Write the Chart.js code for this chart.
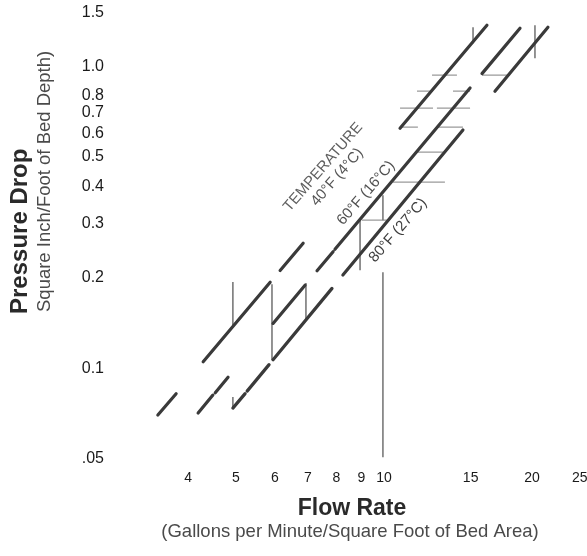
<!DOCTYPE html>
<html><head><meta charset="utf-8">
<script src="https://cdn.jsdelivr.net/npm/chart.js@4.4.0/dist/chart.umd.min.js"></script>
<style>html,body{margin:0;padding:0;background:#fff;overflow:hidden}#wrap{position:relative;width:587px;height:556px}</style>
</head><body><div id="wrap"><canvas id="c" width="587" height="556"></canvas></div>
<script>
// ---- tick values and labels ----
const xTicks = [4, 5, 6, 7, 8, 9, 10, 15, 20, 25];
const xTickLabels = ['4', '5', '6', '7', '8', '9', '10', '15', '20', '25'];
const yTicks = [0.05, 0.1, 0.2, 0.3, 0.4, 0.5, 0.6, 0.7, 0.8, 1.0, 1.5];
const yTickLabels = ['.05', '0.1', '0.2', '0.3', '0.4', '0.5', '0.6', '0.7', '0.8', '1.0', '1.5'];

// ---- temperature curves (flow rate, pressure drop); null = break between drawn pieces ----
const f40X = [3.47, 3.78, null, 4.29, 5.87, null, 6.15, 6.85, null, 10.78, 16.19];
const f40Y = [0.0699, 0.0822, null, 0.1049, 0.1924, null, 0.2105, 0.2593, null, 0.6228, 1.367];
const f60X = [4.19, 4.49, null, 4.54, 4.82, null, 5.95, 6.91, null, 7.31, 7.88, null, 7.95, 14.96, null, 15.82, 18.90];
const f60Y = [0.0710, 0.0814, null, 0.0829, 0.0933, null, 0.1406, 0.1882, null, 0.2100, 0.2429, null, 0.2474, 0.8471, null, 0.9449, 1.336];
const f80X = [4.93, 5.22, null, 5.27, 5.84, null, 5.95, 7.84, null, 8.25, 14.47, null, 16.81, 21.54];
const f80Y = [0.0737, 0.0823, null, 0.0839, 0.1027, null, 0.1066, 0.1837, null, 0.2033, 0.6147, null, 0.8258, 1.346];

// ---- remaining grid-line pieces ----
const gridVX  = [4.93, 4.93, 5.92, 6.94, 8.94, 9.95, 9.95, 15.17, 20.27];
const gridVY1 = [0.1927, 0.0802, 0.1897, 0.1912, 0.3090, 0.3739, 0.2079, 1.346, 1.367];
const gridVY2 = [0.1367, 0.0737, 0.1063, 0.1441, 0.2111, 0.3090, 0.0507, 1.192, 1.063];
const gridHY  = [0.3090, 0.4129, 0.5190, 0.6281, 0.6281, 0.7258, 0.7258, 0.8266, 0.8266, 0.9337, 0.9337];
const gridHX1 = [9.02, 10.43, 11.72, 10.78, 12.81, 10.78, 12.81, 11.67, 13.81, 12.52, 15.82];
const gridHX2 = [10.14, 13.30, 13.18, 11.72, 14.47, 12.58, 14.96, 12.58, 14.96, 14.07, 18.04];

// ---- annotation texts anchored at data coordinates ----
const annotTexts = ['TEMPERATURE', '40°F (4°C)', '60°F (16°C)', '80°F (27°C)'];
const annotX = [7.52, 8.03, 9.19, 10.68];
const annotY = [0.463, 0.429, 0.380, 0.286];

const xTitle = 'Flow Rate';
const xSubtitle = '(Gallons per Minute/Square Foot of Bed Area)';
const yTitle = 'Pressure Drop';
const ySubtitle = 'Square Inch/Foot of Bed Depth)';

const FONT = '"Liberation Sans", Arial, Helvetica, sans-serif';

function toPoints(xs, ys) {
  const pts = [];
  for (let i = 0; i < xs.length; i++) {
    if (xs[i] === null) pts.push({x: xs[i - 1], y: null});
    else pts.push({x: xs[i], y: ys[i]});
  }
  return pts;
}
const gridVPts = [];
gridVX.forEach((x, i) => { gridVPts.push({x, y: gridVY1[i]}, {x, y: gridVY2[i]}, {x, y: null}); });
const gridHPts = [];
gridHY.forEach((y, i) => { gridHPts.push({x: gridHX1[i], y}, {x: gridHX2[i], y}, {x: gridHX2[i], y: null}); });

const curveStyle = {borderColor: '#3a3a3a', borderWidth: 3.2, pointRadius: 0, borderCapStyle: 'round', spanGaps: false, tension: 0, fill: false};

const textPlugin = {
  id: 'texts',
  afterDraw(chart) {
    const ctx = chart.ctx, xs = chart.scales.x, ys = chart.scales.y;
    ctx.save();
    ctx.textAlign = 'center';
    ctx.textBaseline = 'alphabetic';
    ctx.fillStyle = '#2a2a2a';
    ctx.font = 'bold 23px ' + FONT;
    ctx.fillText(xTitle, 352, 515);
    ctx.fillStyle = '#4a4a4a';
    ctx.font = '18.5px ' + FONT;
    ctx.fillText(xSubtitle, 350, 537);
    ctx.restore();

    ctx.save();
    ctx.translate(27, 314);
    ctx.rotate(-Math.PI / 2);
    ctx.textAlign = 'left';
    ctx.fillStyle = '#2a2a2a';
    ctx.font = 'bold 24px ' + FONT;
    ctx.fillText(yTitle, 0, 0);
    ctx.restore();

    ctx.save();
    ctx.translate(50, 312);
    ctx.rotate(-Math.PI / 2);
    ctx.textAlign = 'left';
    ctx.fillStyle = '#4a4a4a';
    ctx.font = '18.5px ' + FONT;
    ctx.fillText(ySubtitle, 0, 0);
    ctx.restore();

    const colors = ['#606060', '#555555', '#505050', '#3e3e3e'];
    annotTexts.forEach((t, i) => {
      ctx.save();
      ctx.translate(xs.getPixelForValue(annotX[i]), ys.getPixelForValue(annotY[i]));
      ctx.rotate(-49 * Math.PI / 180);
      ctx.textAlign = 'center';
      ctx.textBaseline = 'middle';
      ctx.fillStyle = colors[i];
      ctx.font = '15px ' + FONT;
      ctx.fillText(t, 0, 0);
      ctx.restore();
    });
  }
};

new Chart(document.getElementById('c'), {
  type: 'line',
  data: {
    datasets: [
      Object.assign({label: '40°F (4°C)', data: toPoints(f40X, f40Y)}, curveStyle),
      Object.assign({label: '60°F (16°C)', data: toPoints(f60X, f60Y)}, curveStyle),
      Object.assign({label: '80°F (27°C)', data: toPoints(f80X, f80Y)}, curveStyle),
      {label: 'grid v', data: gridVPts, borderColor: '#7a7a7a', borderWidth: 1.6, pointRadius: 0, spanGaps: false},
      {label: 'grid h', data: gridHPts, borderColor: '#9a9a9a', borderWidth: 1.3, pointRadius: 0, spanGaps: false}
    ]
  },
  options: {
    responsive: false,
    animation: false,
    events: [],
    layout: {padding: {top: 13, right: 0, bottom: 0, left: 0}},
    plugins: {legend: {display: false}, tooltip: {enabled: false}},
    scales: {
      x: {
        type: 'logarithmic', position: 'bottom', min: 3.345, max: 25.86,
        grid: {display: false, drawTicks: false}, border: {display: false},
        ticks: {autoSkip: false, maxRotation: 0, minRotation: 0, padding: 11, color: '#1a1a1a',
          font: {family: FONT, size: 14},
          callback: (v, i) => xTickLabels[i]},
        afterBuildTicks: (s) => { s.ticks = xTicks.map(v => ({value: v})); },
        afterFit: (s) => { s.height = 97; s.paddingLeft = 0; s.paddingRight = 0; }
      },
      y: {
        type: 'logarithmic', position: 'left', min: 0.05, max: 1.5,
        grid: {display: false, drawTicks: false}, border: {display: false},
        ticks: {autoSkip: false, padding: 46, color: '#1a1a1a',
          font: {family: FONT, size: 16},
          callback: (v, i) => yTickLabels[i]},
        afterBuildTicks: (s) => { s.ticks = yTicks.map(v => ({value: v})); },
        afterFit: (s) => { s.width = 150; s.paddingTop = 0; s.paddingBottom = 0; }
      }
    }
  },
  plugins: [textPlugin]
});
</script></body></html>
